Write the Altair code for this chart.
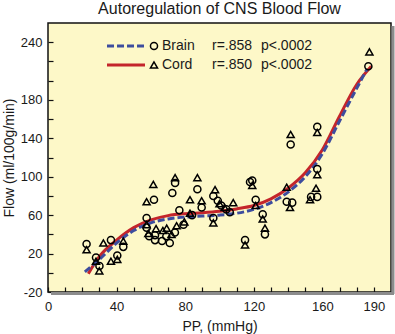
import altair as alt
import pandas as pd

# ---- data ----
brain_pp = [22.5, 28, 30, 36.7, 40.4, 43.9, 57.5, 57.5, 59, 61.8, 62.4, 62.4, 66.5, 69, 71,
            72.5, 74, 74.1, 76.6, 79, 84, 87.1, 89.6, 96.4, 96.4, 99, 101, 104, 106, 114.9,
            117.8, 119.1, 121.1, 125.2, 126.5, 139.2, 141.5, 142.4, 153.4, 157, 157, 157, 186.8]
brain_flow = [30, 16, 7, 34, 18, 27, 57, 47, 38, 76, 39, 34, 33, 38, 31,
              83, 42, 93.5, 65, 50, 60, 87, 68, 80, 57, 75, 70, 66, 63, 34,
              94.5, 96, 76, 61, 40, 74, 133.5, 73, 79, 79, 108, 152, 215]

cord_pp = [22.5, 28, 29.9, 32.3, 36.7, 40.4, 43.9, 57.5, 57.5, 58.5, 61.4, 63, 67, 69.2, 72,
           74.1, 75, 79.5, 82.8, 82.8, 87.1, 89.6, 96.4, 97.4, 100, 103, 108, 114.9, 119.1,
           121.1, 125.2, 126.5, 139.2, 141.1, 141.5, 152.8, 156.3, 157, 157, 187.4]
cord_flow = [24, 12, 2, 31, 12, 14, 33, 74, 50, 41, 92, 46, 44, 46.5, 40,
             99, 49, 53, 76, 62, 99, 75, 52, 86.5, 72, 68, 73, 29, 91,
             70, 56, 46.5, 89, 68, 144, 76, 88, 102, 146, 230]

# fitted curves as drawn
brain_fit_pp = [21.5, 30, 40, 50, 60, 70, 80, 90, 100, 110, 120, 130, 140, 150, 160, 170, 180, 186]
brain_fit_flow = [1, 14, 31, 44, 52, 56, 58, 59, 60, 62, 66, 73, 84, 100, 124, 158, 192, 212]
cord_fit_pp = [23.5, 30, 40, 50, 60, 70, 80, 90, 100, 110, 120, 130, 140, 150, 160, 170, 180, 188.5]
cord_fit_flow = [-1, 17, 34, 47, 55, 59.5, 61.5, 62.5, 64, 66.5, 70, 77, 88, 104, 128, 163, 196, 215]

legend_names = ["Brain", "Cord"]
legend_r = ["r=.858", "r=.850"]
legend_p = ["p<.0002", "p<.0002"]

x_ticks = list(range(0, 200, 10))
x_labels = [0, 40, 80, 120, 160, 190]
y_ticks = list(range(-20, 241, 20))
y_labels = [-20, 20, 60, 100, 140, 180, 240]

BLUE = "#3d4d9e"
RED = "#c4252b"
FONT = "Liberation Sans"
INK = "#1a1a1a"

brain_df = pd.DataFrame({"pp": brain_pp, "flow": brain_flow})
cord_df = pd.DataFrame({"pp": cord_pp, "flow": cord_flow})
bfit_df = pd.DataFrame({"pp": brain_fit_pp, "flow": brain_fit_flow})
cfit_df = pd.DataFrame({"pp": cord_fit_pp, "flow": cord_fit_flow})

xlab_expr = "(" + " || ".join("datum.value == %d" % v for v in x_labels) + ") ? '' + datum.value : ''"
ylab_expr = "(" + " || ".join("datum.value == %d" % v for v in y_labels) + ") ? '' + datum.value : ''"

x_enc = alt.X("pp:Q", scale=alt.Scale(domain=[0, 200], nice=False, zero=False),
              axis=alt.Axis(values=x_ticks, labelExpr=xlab_expr, title="PP, (mmHg)",
                            offset=-5, tickSize=5, domain=False, labelPadding=8,
                            titlePadding=6, labelFlush=False, labelOverlap=False,
                            labelBound=False))
y_enc = alt.Y("flow:Q", scale=alt.Scale(domain=[-20, 260], nice=False, zero=False),
              axis=alt.Axis(values=y_ticks, labelExpr=ylab_expr, title="Flow  (ml/100g/min)",
                            offset=-5, tickSize=5, domain=False, labelPadding=6,
                            titlePadding=4, labelOverlap=False, labelBound=False,
                            labelFlush=False))

cord_line = alt.Chart(cfit_df).mark_line(color=RED, strokeWidth=3, interpolate="monotone").encode(
    x=x_enc, y=y_enc)
brain_line = alt.Chart(bfit_df).mark_line(color=BLUE, strokeWidth=3, strokeDash=[7, 3],
                                          interpolate="monotone").encode(x=x_enc, y=y_enc)
brain_pts = alt.Chart(brain_df).mark_point(shape="circle", size=50, filled=False, color="black",
                                           strokeWidth=1.5, opacity=1).encode(x=x_enc, y=y_enc)
cord_pts = alt.Chart(cord_df).mark_point(shape="triangle-up", size=50, filled=False, color="black",
                                         strokeWidth=1.5, opacity=1).encode(x=x_enc, y=y_enc)

one = pd.DataFrame({"k": [0]})
# frame shadow
shadow_r = alt.Chart(one).mark_rule(color="#8c8c8c", strokeWidth=3).encode(
    x=alt.value(345), y=alt.value(3), y2=alt.value(271))
shadow_b = alt.Chart(one).mark_rule(color="#8c8c8c", strokeWidth=3).encode(
    x=alt.value(3), x2=alt.value(346), y=alt.value(270.5))

# legend
lg_y = [23, 42]
leg = []
leg.append(alt.Chart(one).mark_rule(color=BLUE, strokeWidth=3, strokeDash=[7, 3]).encode(
    x=alt.value(59), x2=alt.value(99), y=alt.value(lg_y[0])))
leg.append(alt.Chart(one).mark_rule(color=RED, strokeWidth=3).encode(
    x=alt.value(59), x2=alt.value(97), y=alt.value(lg_y[1])))
leg.append(alt.Chart(one).mark_point(shape="circle", size=50, filled=False, color="black",
                                     strokeWidth=1.5, opacity=1).encode(
    x=alt.value(106), y=alt.value(lg_y[0])))
leg.append(alt.Chart(one).mark_point(shape="triangle-up", size=50, filled=False, color="black",
                                     strokeWidth=1.5, opacity=1).encode(
    x=alt.value(106), y=alt.value(lg_y[1])))
for i in range(2):
    leg.append(alt.Chart(one).mark_text(text=legend_names[i], font=FONT, fontSize=14, align="left",
                                        baseline="middle", color=INK).encode(
        x=alt.value(114), y=alt.value(lg_y[i])))
    leg.append(alt.Chart(one).mark_text(text=legend_r[i], font=FONT, fontSize=14, align="left",
                                        baseline="middle", color=INK).encode(
        x=alt.value(164), y=alt.value(lg_y[i])))
    leg.append(alt.Chart(one).mark_text(text=legend_p[i], font=FONT, fontSize=14, align="left",
                                        baseline="middle", color=INK).encode(
        x=alt.value(213), y=alt.value(lg_y[i])))

chart = alt.layer(shadow_r, shadow_b, cord_line, brain_line, brain_pts, cord_pts, *leg).properties(
    width=343, height=269,
    title=alt.TitleParams("Autoregulation of CNS Blood Flow", fontSize=16, fontWeight="normal",
                          font=FONT, color=INK, offset=6, anchor="middle"),
    autosize=alt.AutoSizeParams(type="none"),
    padding={"left": 48, "top": 23, "right": 4, "bottom": 42},
    background="white",
).configure_view(
    fill="#fdf8c8", stroke="#111111", strokeWidth=1.5
).configure_axis(
    labelFont=FONT, titleFont=FONT, labelFontSize=13, titleFontSize=14,
    labelColor=INK, titleColor=INK, tickColor="#111111", tickWidth=1.2,
    titleFontWeight="normal", grid=False, labelOverlap=False
)

chart.save("out.html", embed_options={"renderer": "svg", "actions": False})
